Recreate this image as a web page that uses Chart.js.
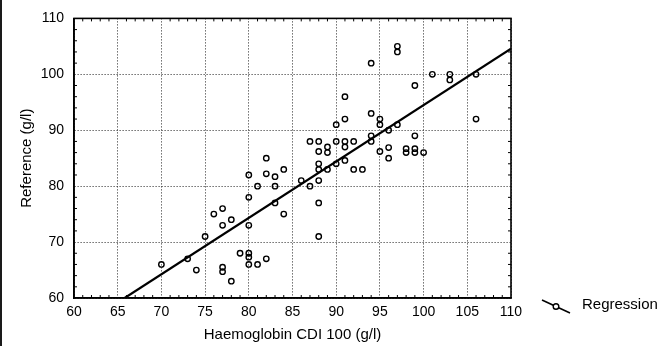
<!DOCTYPE html>
<html>
<head>
<meta charset="utf-8">
<script src="https://cdn.jsdelivr.net/npm/chart.js@4.4.1/dist/chart.umd.min.js"></script>
<style>
    body { margin: 0; background: #fff; }
</style>
</head>
<body>
<canvas id="scatter" width="664" height="346"></canvas>
<script>
// Haemoglobin CDI 100 (x) vs reference method (y), g/l
var hbCdi = [70, 73, 74, 75, 76, 77, 77, 78, 77, 77, 78, 79, 80, 80, 80, 81, 82,
    80, 80, 80, 81, 82, 82, 83, 83, 83, 84, 84, 86, 87, 88, 88, 88, 88, 88, 89,
    90, 91, 92, 93, 87, 88, 88, 89, 89, 90, 91, 91, 92, 90, 91, 91, 94, 97, 97,
    101, 103, 103, 106, 106, 99, 94, 95, 95, 97, 96, 94, 94, 99, 95, 96, 96, 98,
    98, 99, 99, 100];
var hbRef = [66, 67, 65, 71, 75, 76, 73, 74, 65.5, 64.7, 63, 68, 68, 67.3, 66, 66, 67,
    82, 78, 73, 80, 85, 82.2, 81.7, 80, 77, 83, 75, 81, 80, 81, 77, 71, 84, 83, 83,
    84, 84.6, 83, 83, 88, 88, 86.2, 87, 86, 88, 88, 87, 88, 91, 92, 96, 102, 105, 104,
    100, 100, 99, 100, 92, 98, 93, 92, 91, 91, 90, 89, 88, 89, 86.2, 86.9, 85, 86.7,
    86, 86.7, 86, 86];

// regression line, two ends
var fitX = [65.8, 110];
var fitY = [60, 104.6];

var xTicks = [60, 65, 70, 75, 80, 85, 90, 95, 100, 105, 110];
var yTicks = [60, 70, 80, 90, 100, 110];

var points = [];
for (var i = 0; i < hbCdi.length; i++) {
    points.push({ x: hbCdi[i], y: hbRef[i] });
}
var fitLine = [];
for (var j = 0; j < fitX.length; j++) {
    fitLine.push({ x: fitX[j], y: fitY[j] });
}

Chart.defaults.font.family = 'Arial, "Liberation Sans", sans-serif';
Chart.defaults.color = '#000';

// frame, minor ticks, custom legend, scan edge
var extras = {
    id: 'extras',
    beforeDraw: function (chart) {
        var c = chart.ctx;
        c.save();
        c.fillStyle = '#fff';
        c.fillRect(0, 0, chart.width, chart.height);
        c.fillStyle = '#1a1a1a';
        c.fillRect(0, 0, 2, chart.height);
        c.restore();
    },
    beforeDatasetsDraw: function (chart) {
        var c = chart.ctx, a = chart.chartArea;
        var xs = chart.scales.x, ys = chart.scales.y;
        c.save();
        c.strokeStyle = '#000';
        c.lineWidth = 1;
        c.beginPath();
        for (var v = 61; v < 110; v++) {
            if (v % 5 === 0) continue;
            var px = xs.getPixelForValue(v);
            c.moveTo(px, a.bottom); c.lineTo(px, a.bottom - 3);
            c.moveTo(px, a.top); c.lineTo(px, a.top + 3);
        }
        for (var w = 62; w < 110; w += 2) {
            if (w % 10 === 0) continue;
            var py = ys.getPixelForValue(w);
            c.moveTo(a.left, py); c.lineTo(a.left + 3, py);
            c.moveTo(a.right, py); c.lineTo(a.right - 3, py);
        }
        c.stroke();
        c.lineWidth = 1.6;
        c.strokeRect(a.left, a.top, a.right - a.left, a.bottom - a.top);
        c.restore();
    },
    afterDraw: function (chart) {
        var c = chart.ctx, a = chart.chartArea;
        var x0 = a.right + 31, y0 = a.bottom + 2;
        c.save();
        c.strokeStyle = '#000';
        c.lineWidth = 1.6;
        c.beginPath();
        c.moveTo(x0, y0);
        c.lineTo(x0 + 28, y0 + 13);
        c.stroke();
        c.beginPath();
        c.arc(x0 + 14, y0 + 6.5, 2.8, 0, Math.PI * 2);
        c.fillStyle = '#fff';
        c.fill();
        c.lineWidth = 1.4;
        c.stroke();
        c.fillStyle = '#000';
        c.font = '15px Arial, "Liberation Sans", sans-serif';
        c.textBaseline = 'middle';
        c.fillText('Regression', x0 + 40, a.bottom + 7);
        c.restore();
    }
};

const ctx = document.getElementById('scatter');
new Chart(ctx, {
    type: 'scatter',
    data: {
        datasets: [{
            label: 'Regression',
            data: fitLine,
            showLine: true,
            borderColor: '#000',
            borderWidth: 2.2,
            pointRadius: 0
        }, {
            label: 'Data',
            data: points,
            pointStyle: 'circle',
            pointRadius: 2.7,
            pointBorderWidth: 1.4,
            borderColor: '#000',
            backgroundColor: 'rgba(0,0,0,0)'
        }]
    },
    options: {
        responsive: false,
        animation: false,
        layout: {
            padding: { left: 0, top: 17, right: 153, bottom: 0 }
        },
        scales: {
            x: {
                type: 'linear',
                min: 60,
                max: 110,
                afterBuildTicks: function (scale) {
                    scale.ticks = xTicks.map(function (v) { return { value: v }; });
                },
                afterFit: function (scale) { scale.height = 48; },
                ticks: { font: { size: 14 }, padding: 6, maxRotation: 0 },
                grid: { color: '#222', lineWidth: 1, drawTicks: false },
                border: { color: '#000', width: 1.6, dash: [1, 2] },
                title: {
                    display: true,
                    text: 'Haemoglobin CDI 100 (g/l)',
                    font: { size: 15 },
                    padding: { top: 0, bottom: 2 }
                }
            },
            y: {
                type: 'linear',
                min: 60,
                max: 110,
                afterBuildTicks: function (scale) {
                    scale.ticks = yTicks.map(function (v) { return { value: v }; });
                },
                afterFit: function (scale) { scale.width = 74; },
                ticks: { font: { size: 14 }, padding: 10 },
                grid: { color: '#222', lineWidth: 1, drawTicks: false },
                border: { color: '#000', width: 1.6, dash: [1, 2] },
                title: {
                    display: true,
                    text: 'Reference (g/l)',
                    font: { size: 15 },
                    padding: { top: 18, bottom: 0 }
                }
            }
        },
        plugins: {
            legend: { display: false },
            tooltip: { enabled: false }
        }
    },
    plugins: [extras]
});
</script>
</body>
</html>
